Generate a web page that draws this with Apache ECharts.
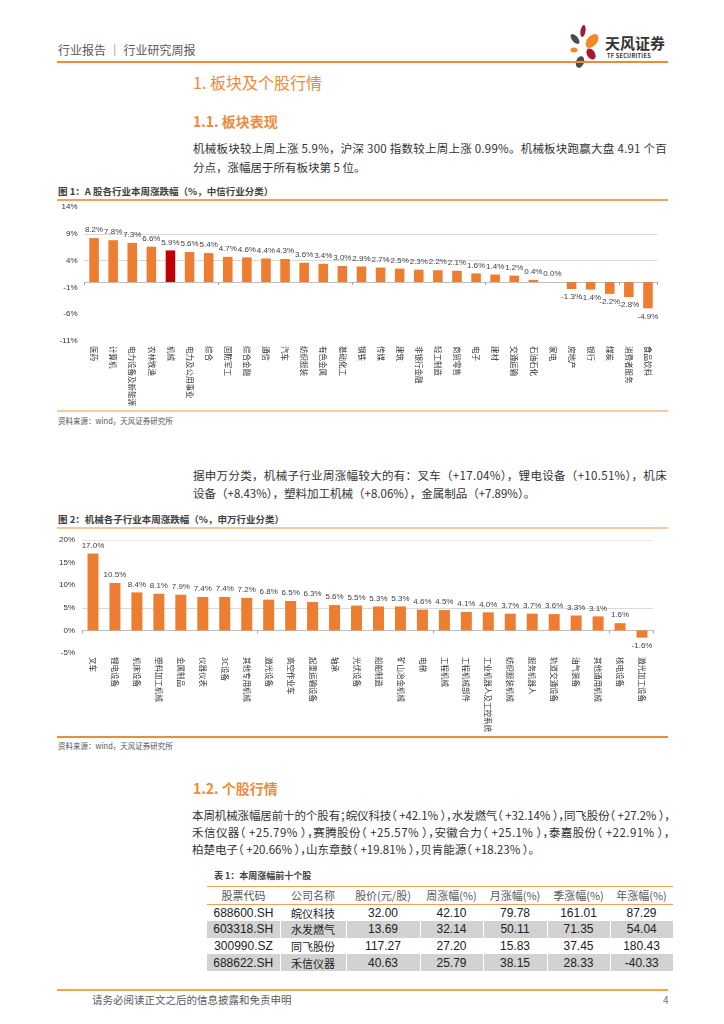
<!DOCTYPE html>
<html><head><meta charset="utf-8">
<script src="https://cdn.jsdelivr.net/npm/echarts@6/dist/echarts.min.js"></script>
<style>
body{margin:0;width:724px;height:1024px;position:relative;background:#fff;font-family:"Noto Sans CJK SC","Liberation Sans",sans-serif;color:#333;overflow:hidden}
.t{position:absolute;height:20px;line-height:20px;white-space:nowrap}
.line{position:absolute}
.orange{color:#EF8B3C}
#tbl{position:absolute;left:207px;top:886px;width:466px;border-collapse:collapse;table-layout:fixed}
#tbl th,#tbl td{height:16.6px;padding:0;text-align:center;line-height:16px;white-space:nowrap}
#tbl th{font-size:11px;color:#595959;font-weight:normal;border-top:1.5px solid #F0A050;border-bottom:1px solid #F0A050}
#tbl td{font-size:12px;color:#222;font-family:"Liberation Sans","Noto Sans CJK SC",sans-serif}
#tbl td.cn{font-family:"Noto Sans CJK SC",sans-serif;font-size:11px}
#tbl tr.g td{background:#D2D2D2;border-right:1px solid #fff}
#tbl tr.g td:last-child{border-right:none}
</style></head><body>

<!-- header -->
<div class="t" style="left:58px;top:40px;font-size:12px;color:#595959">行业报告 ｜ 行业研究周报</div>
<svg style="position:absolute;left:566px;top:24px" width="36" height="46" viewBox="0 0 36 46">
 <ellipse cx="17" cy="7" rx="2.5" ry="6" fill="#A6192E" transform="rotate(10 17 7)"/>
 <ellipse cx="26" cy="17" rx="5" ry="8" fill="#F08A24" transform="rotate(40 26 17)"/>
 <ellipse cx="9" cy="15" rx="3" ry="6" fill="#4D4D4D" transform="rotate(-40 9 15)"/>
 <ellipse cx="8" cy="26" rx="3.5" ry="2.5" fill="#F08A24"/>
 <ellipse cx="25" cy="30" rx="4" ry="6" fill="#A6192E" transform="rotate(-30 25 30)"/>
 <ellipse cx="14" cy="38" rx="4" ry="6" fill="#4D4D4D" transform="rotate(20 14 38)"/>
</svg>
<div class="t" style="left:605px;top:33px;font-size:15px;font-weight:bold;color:#333">天风证券</div>
<div class="t" style="left:607px;top:46px;font-size:5.5px;font-weight:bold;color:#333;letter-spacing:0.3px">TF SECURITIES</div>
<div class="line" style="left:57px;top:61px;width:611px;height:2px;background:#EE8B33"></div>

<div class="t orange" style="left:193px;top:72px;font-size:16px">1. 板块及个股行情</div>
<div class="t orange" style="left:193px;top:111px;font-size:14px;font-weight:bold">1.1. 板块表现</div>
<div class="t fit" data-w="474" style="left:193px;top:138px;font-size:11.5px">机械板块较上周上涨 5.9%，沪深 300 指数较上周上涨 0.99%。机械板块跑赢大盘 4.91 个百</div>
<div class="t" style="left:193px;top:157px;font-size:11.5px">分点，涨幅居于所有板块第 5 位。</div>

<div class="t" style="left:58px;top:181px;font-size:9.5px;font-weight:bold;color:#404040">图 1：A 股各行业本周涨跌幅（%，中信行业分类）</div>
<div class="line" style="left:57px;top:199px;width:611px;height:1.5px;background:#F3A15A"></div>
<div id="c1" style="position:absolute;left:0;top:195px;width:724px;height:214px"></div>
<div class="line" style="left:57px;top:410px;width:611px;height:2px;background:#F9CBA3"></div>
<div class="t" style="left:58px;top:411px;font-size:7.5px;color:#555">资料来源：wind，天风证券研究所</div>

<div class="t fit" data-w="474" style="left:193px;top:465px;font-size:11.5px">据申万分类，机械子行业周涨幅较大的有：叉车（+17.04%），锂电设备（+10.51%），机床</div>
<div class="t" style="left:193px;top:483px;font-size:11.5px">设备（+8.43%），塑料加工机械（+8.06%），金属制品（+7.89%）。</div>

<div class="t" style="left:58px;top:509px;font-size:9.5px;font-weight:bold;color:#404040">图 2：机械各子行业本周涨跌幅（%，申万行业分类）</div>
<div class="line" style="left:57px;top:527px;width:611px;height:2px;background:#F9C79B"></div>
<div id="c2" style="position:absolute;left:0;top:530px;width:724px;height:205px"></div>
<div class="line" style="left:57px;top:736px;width:611px;height:2px;background:#EE8B3A"></div>
<div class="t" style="left:58px;top:736px;font-size:7.5px;color:#555">资料来源：wind，天风证券研究所</div>

<div class="t orange" style="left:193px;top:778px;font-size:14px;font-weight:bold">1.2. 个股行情</div>
<div class="t fit" data-w="478" style="left:192px;top:805px;font-size:11.5px;font-feature-settings:'halt'">本周机械涨幅居前十的个股有；皖仪科技（ +42.1% ），水发燃气（ +32.14% ），同飞股份（ +27.2% ），</div>
<div class="t fit" data-w="478" style="left:192px;top:822px;font-size:11.5px;font-feature-settings:'halt'">禾信仪器（ +25.79% ），赛腾股份（ +25.57% ），安徽合力（ +25.1% ），泰嘉股份（ +22.91% ），</div>
<div class="t" style="left:192px;top:839px;font-size:11.5px;font-feature-settings:'halt'">柏楚电子（ +20.66% ），山东章鼓（ +19.81% ），贝肯能源（ +18.23% ）。</div>

<div class="t" style="left:214px;top:866px;font-size:9px;font-weight:bold;color:#404040">表 1：本周涨幅前十个股</div>
<table id="tbl"></table>

<div class="line" style="left:57px;top:989px;width:611px;height:2px;background:#F2A93B"></div>
<div class="t" style="left:92px;top:990px;font-size:10.5px;color:#595959">请务必阅读正文之后的信息披露和免责申明</div>
<div class="t" style="left:663px;top:990px;font-size:10px;color:#777">4</div>

<script>
// ---- Chart 1 data (CITIC industries, weekly change %) ----
const industryCats = ['医药','计算机','电力设备及新能源','农林牧渔','机械','电力及公用事业','综合','国防军工','综合金融','通信','汽车','纺织服装','有色金属','基础化工','钢铁','传媒','建筑','非银行金融','轻工制造','商贸零售','电子','建材','交通运输','石油石化','家电','房地产','银行','煤炭','消费者服务','食品饮料'];
const industryVals = [8.2,7.8,7.3,6.6,5.9,5.6,5.4,4.7,4.6,4.4,4.3,3.6,3.4,3.0,2.9,2.7,2.5,2.3,2.2,2.1,1.6,1.4,1.2,0.4,0.0,-1.3,-1.4,-2.2,-2.8,-4.9];
const highlightCat = '机械';
const industryTicks = {min:-11, max:14, step:5};

// ---- Chart 2 data (SW machinery sub-industries, weekly change %) ----
const subCats = ['叉车','锂电设备','机床设备','塑料加工机械','金属制品','仪器仪表','3C设备','其他专用机械','激光设备','高空作业车','起重运输设备','轴承','光伏设备','船舶制造','矿山冶金机械','电梯','工程机械','工程机械部件','工业机器人及工控系统','纺织服装机械','服务机器人','轨道交通设备','油气装备','其他通用机械','核电设备','激光加工设备'];
const subVals = [17.0,10.5,8.4,8.1,7.9,7.4,7.4,7.2,6.8,6.5,6.3,5.6,5.5,5.3,5.3,4.6,4.5,4.1,4.0,3.7,3.7,3.6,3.3,3.1,1.6,-1.6];
const subTicks = {min:-5, max:20, step:5};

// ---- Table data ----
const tableHeaders = ['股票代码','公司名称','股价(元/股)','周涨幅(%)','月涨幅(%)','季涨幅(%)','年涨幅(%)'];
const stockCodes = ['688600.SH','603318.SH','300990.SZ','688622.SH'];
const stockNames = ['皖仪科技','水发燃气','同飞股份','禾信仪器'];
const stockPrice = ['32.00','13.69','117.27','40.63'];
const weekChg = ['42.10','32.14','27.20','25.79'];
const monthChg = ['79.78','50.11','15.83','38.15'];
const quarterChg = ['161.01','71.35','37.45','28.33'];
const yearChg = ['87.29','54.04','180.43','-40.33'];

const ORANGE = '#ED7D31', RED = '#C00000';
const FONT = '"Liberation Sans","Noto Sans CJK SC",sans-serif';
const NONE = 'rgba(0,0,0,0)';

function barChart(el, cats, vals, ticks, grid, splitColors, catMargin) {
  const chart = echarts.init(document.getElementById(el), null, {renderer: 'canvas'});
  chart.setOption({
    animation: false,
    textStyle: {fontFamily: FONT},
    grid: grid,
    xAxis: [
      {type: 'category', data: cats, position: 'bottom',
       axisLine: {onZero: true, lineStyle: {color: '#BFBFBF', width: 1}},
       axisTick: {show: true, length: 3, lineStyle: {color: '#A6A6A6'}},
       axisLabel: {show: false}, splitLine: {show: false}},
      {type: 'category', data: cats, position: 'bottom',
       axisLine: {show: false, onZero: false}, axisTick: {show: false},
       axisLabel: {interval: 0, rotate: -90, margin: catMargin, fontSize: 7.5, color: '#333', fontFamily: '"Noto Sans CJK SC",sans-serif'}}
    ],
    yAxis: {type: 'value', min: ticks.min, max: ticks.max, interval: ticks.step,
      axisLine: {show: false}, axisTick: {show: false},
      axisLabel: {formatter: '{value}%', fontSize: 8, color: '#333', margin: 7},
      splitLine: {show: true, lineStyle: {color: splitColors, width: 1}}},
    series: [{
      type: 'bar', xAxisIndex: 0, barWidth: '50%',
      data: vals.map((v, i) => ({
        value: v,
        itemStyle: {color: cats[i] === highlightCat ? RED : ORANGE},
        label: {position: v < 0 ? 'bottom' : 'top'}
      })),
      label: {show: true, fontSize: 8, color: '#404040', distance: 4,
        formatter: p => p.value.toFixed(1) + '%'}
    }]
  });
}

barChart('c1', industryCats, industryVals, industryTicks,
  {left: 84.5, right: 66.5, top: 12, bottom: 62},
  [NONE, NONE, NONE, '#D9D9D9', '#D9D9D9', NONE], 5);

barChart('c2', subCats, subVals, subTicks,
  {left: 82, right: 71, top: 10, bottom: 80},
  [NONE, NONE, '#D9D9D9', NONE, NONE, '#E6E6E6'], 4);

// table
const tbl = document.getElementById('tbl');
const colW = [73, 66, 74, 63, 64, 63, 63];
let html = '<colgroup>' + colW.map(w => '<col style="width:' + w + 'px">').join('') + '</colgroup>';
html += '<tr>' + tableHeaders.map(h => '<th>' + h + '</th>').join('') + '</tr>';
for (let i = 0; i < stockCodes.length; i++) {
  html += '<tr class="' + (i % 2 ? 'g' : '') + '"><td>' + stockCodes[i] + '</td><td class="cn">' + stockNames[i] +
    '</td><td>' + stockPrice[i] + '</td><td>' + weekChg[i] + '</td><td>' + monthChg[i] +
    '</td><td>' + quarterChg[i] + '</td><td>' + yearChg[i] + '</td></tr>';
}
tbl.innerHTML = html;

// fit justified lines to their column width
document.querySelectorAll('.fit').forEach(el => {
  const target = parseFloat(el.dataset.w);
  el.style.letterSpacing = '0px';
  const w = el.getBoundingClientRect().width;
  const n = el.textContent.length;
  el.style.letterSpacing = ((target - w) / n) + 'px';
});
</script>
</body></html>
